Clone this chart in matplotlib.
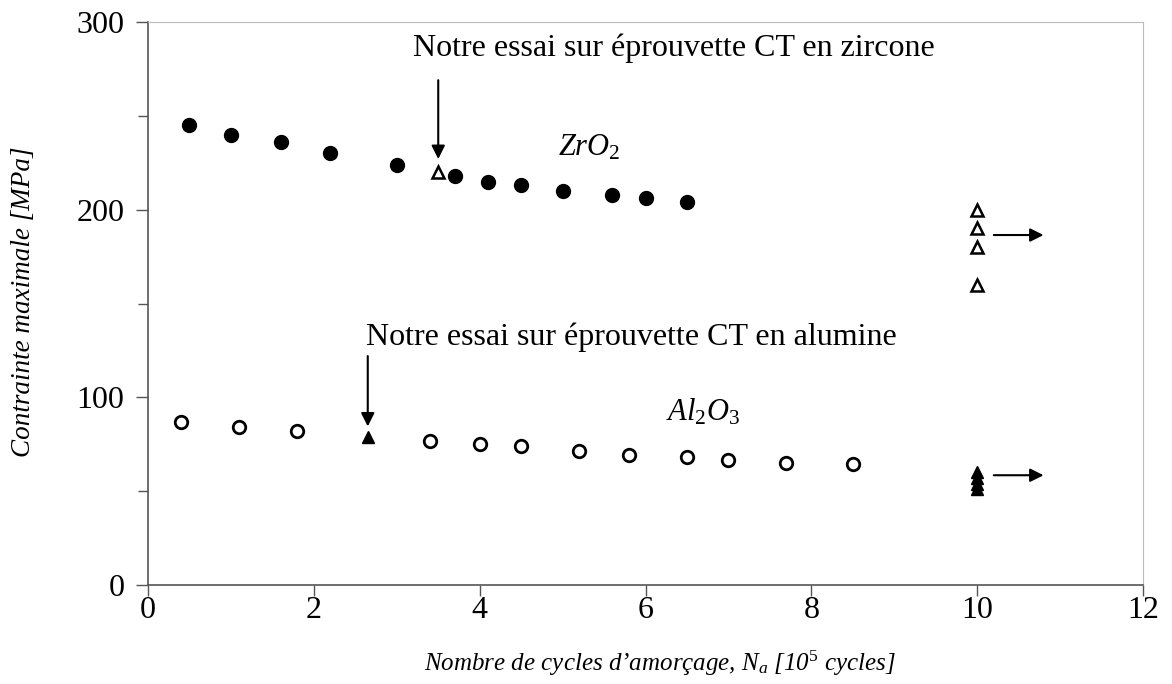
import matplotlib
matplotlib.use("Agg")
import matplotlib.pyplot as plt
from matplotlib.ticker import MultipleLocator

plt.rcParams['font.family'] = ['Liberation Serif', 'DejaVu Serif']
plt.rcParams['mathtext.fontset'] = 'custom'
plt.rcParams['mathtext.rm'] = 'Liberation Serif'
plt.rcParams['mathtext.it'] = 'Liberation Serif:italic'

# Zircone (ZrO2), literature data
zr_cycles = [0.5, 1.0, 1.6, 2.2, 3.0, 3.7, 4.1, 4.5, 5.0, 5.6, 6.0, 6.5]
zr_stress = [245, 240, 236, 230, 224, 218, 215, 213, 210, 208, 206, 204]

# Alumine (Al2O3), literature data
al_cycles = [0.4, 1.1, 1.8, 3.4, 4.0, 4.5, 5.2, 5.8, 6.5, 7.0, 7.7, 8.5]
al_stress = [87, 84, 82, 77, 75, 74, 71.5, 69.5, 68, 66.5, 65, 64.5]

# our CT specimen tests
ct_zr_cycles = [3.5]
ct_zr_stress = [220]
ct_al_cycles = [2.65]
ct_al_stress = [79]

# non-broken specimens (run-outs at 10^6 cycles)
runout_zr_cycles = [10, 10, 10, 10]
runout_zr_stress = [200, 190, 180, 160]
runout_al_cycles = [10, 10, 10, 10]
runout_al_stress = [60, 57, 54, 51]

fig = plt.figure(figsize=(11.72, 6.84), dpi=100)
ax = fig.add_axes([0.1263, 0.1447, 0.849, 0.8231])

ax.plot(zr_cycles, zr_stress, 'o', color='black', ms=10, zorder=3)
ax.plot(al_cycles, al_stress, 'o', mfc='white', mec='black', mew=2, ms=9, zorder=3)
ax.plot(ct_zr_cycles, ct_zr_stress, '^', mfc='white', mec='black', mew=1.8, ms=9, zorder=3)
ax.plot(ct_al_cycles, ct_al_stress, '^', color='black', ms=9, zorder=3)
ax.plot(runout_zr_cycles, runout_zr_stress, '^', mfc='white', mec='black', mew=1.8, ms=9, zorder=3)
ax.plot(runout_al_cycles, runout_al_stress, '^', color='black', ms=9, zorder=3)

arrow = dict(arrowstyle='-|>', color='black', lw=1.5, mutation_scale=20, shrinkA=0, shrinkB=0)
ax.annotate('', xy=(10.8, 186.5), xytext=(10.2, 186.5), arrowprops=arrow)
ax.annotate('', xy=(10.8, 58.5), xytext=(10.2, 58.5), arrowprops=arrow)

ax.annotate('', xy=(3.5, 227), xytext=(3.5, 269), arrowprops=arrow)
ax.annotate('', xy=(2.65, 84.5), xytext=(2.65, 122), arrowprops=arrow)

ax.text(3.2, 286, 'Notre essai sur éprouvette CT en zircone', fontsize=23,
        ha='left', va='center')
ax.text(2.63, 132, 'Notre essai sur éprouvette CT en alumine', fontsize=23,
        ha='left', va='center')
ax.text(4.95, 233, r'$\mathit{ZrO_2}$', fontsize=22, ha='left', va='center')
ax.text(6.25, 92, r'$\mathit{Al_2O_3}$', fontsize=22, ha='left', va='center')

ax.set_xlim(0, 12)
ax.set_ylim(0, 300)
ax.xaxis.set_major_locator(MultipleLocator(2))
ax.yaxis.set_major_locator(MultipleLocator(100))
ax.yaxis.set_minor_locator(MultipleLocator(50))
ax.tick_params(axis='both', which='both', direction='out', width=1, color='#555555',
               labelsize=23, pad=8)
ax.tick_params(axis='x', length=8, pad=0)
ax.tick_params(axis='y', which='major', length=9)
ax.tick_params(axis='y', which='minor', length=7)

for side in ['left', 'bottom']:
    ax.spines[side].set_color('#555555')
    ax.spines[side].set_linewidth(1.2)
for side in ['top', 'right']:
    ax.spines[side].set_color('#bbbbbb')
    ax.spines[side].set_linewidth(0.8)

ax.set_ylabel('Contrainte maximale [MPa]', fontsize=19.5, style='italic')
ax.yaxis.set_label_coords(-0.113, 0.503)
ax.set_xlabel(r'Nombre de cycles d’amorçage, $\mathit{N_a}$ [10$^\mathit{5}$ cycles]',
              fontsize=18, style='italic')
ax.xaxis.set_label_coords(0.514, -0.113)

fig.savefig('out.png', dpi=100)
